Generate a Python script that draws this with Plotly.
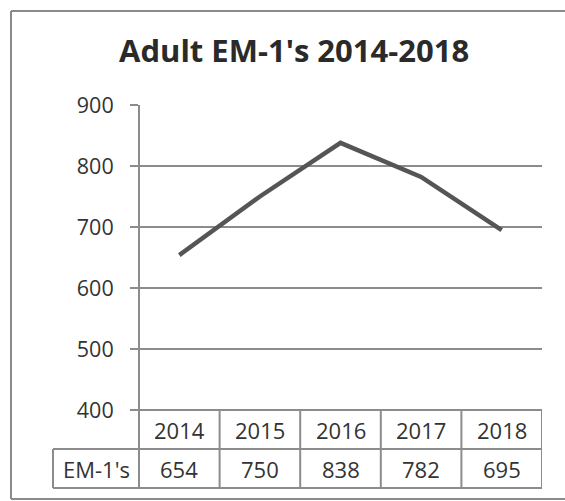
import plotly.graph_objects as go

years = ["2014", "2015", "2016", "2017", "2018"]
values = [654, 750, 838, 782, 695]
series_name = "EM-1's"
title_text = "Adult EM-1's 2014-2018"
y_ticks = [400, 500, 600, 700, 800, 900]

W, H = 565, 501

def px(x):
    return x / W

def py(y):
    return 1 - y / H

TXT = "#333333"
GRID = "#8c8c8c"
FONT = "Open Sans"

fig = go.Figure()
fig.add_trace(go.Scatter(
    x=years, y=values, mode="lines",
    line=dict(color="#555555", width=4.5),
    showlegend=False, hoverinfo="skip",
))

x0, x1 = 139, 542
ytop, ybot = 105, 410
row1, row2 = 449, 488

shapes = []
# outer chart border (left, top, bottom; right side lies outside the picture)
for (ax0, ay0, ax1, ay1) in [(11, 11, 11, 499), (11, 11, 565, 11), (11, 499, 565, 499)]:
    shapes.append(dict(type="line", xref="paper", yref="paper",
                       x0=px(ax0), x1=px(ax1), y0=py(ay0), y1=py(ay1),
                       line=dict(color="#8a8a8a", width=2)))
# y axis line extending through table
shapes.append(dict(type="line", xref="paper", yref="paper",
                   x0=px(x0), x1=px(x0), y0=py(ytop), y1=py(row2),
                   line=dict(color=GRID, width=2)))
# table horizontal lines
for yy, xs in [(ybot, x0), (row1, 53), (row2, 53)]:
    shapes.append(dict(type="line", xref="paper", yref="paper",
                       x0=px(xs), x1=px(x1), y0=py(yy), y1=py(yy),
                       line=dict(color=GRID, width=2)))
# table vertical lines at category boundaries
for i in range(len(years)):
    shapes.append(dict(type="line", xref="x", yref="paper",
                       x0=i + 0.5, x1=i + 0.5, y0=py(ybot), y1=py(row2),
                       line=dict(color=GRID, width=2)))
# left edge of row-header cell
shapes.append(dict(type="line", xref="paper", yref="paper",
                   x0=px(53), x1=px(53), y0=py(row1), y1=py(row2),
                   line=dict(color=GRID, width=2)))

annotations = []
for i, (yr, v) in enumerate(zip(years, values)):
    annotations.append(dict(x=i, xref="x", y=py((ybot + row1) / 2), yref="paper",
                            text=yr, showarrow=False, xanchor="center", yanchor="middle",
                            font=dict(family=FONT, size=22, color=TXT)))
    annotations.append(dict(x=i, xref="x", y=py((row1 + row2) / 2), yref="paper",
                            text=str(v), showarrow=False, xanchor="center", yanchor="middle",
                            font=dict(family=FONT, size=22, color=TXT)))
annotations.append(dict(x=px(96), xref="paper", y=py((row1 + row2) / 2), yref="paper",
                        text=series_name, showarrow=False, xanchor="center", yanchor="middle",
                        font=dict(family=FONT, size=22, color=TXT)))
annotations.append(dict(x=px(293.5), xref="paper", y=py(50), yref="paper",
                        text="<b>" + title_text + "</b>", showarrow=False,
                        xanchor="center", yanchor="middle",
                        font=dict(family=FONT, size=31, color="#2a2a2a")))

fig.update_layout(
    width=W, height=H, autosize=False,
    margin=dict(l=0, r=0, t=0, b=0, autoexpand=False),
    paper_bgcolor="white", plot_bgcolor="white",
    xaxis=dict(domain=[px(x0), px(x1)], type="category", range=[-0.5, len(years) - 0.5],
               automargin=False,
               showticklabels=False, showgrid=False, zeroline=False, showline=False, ticks=""),
    yaxis=dict(domain=[py(ybot), py(ytop)], range=[400, 900], tickvals=y_ticks,
               automargin=False,
               showgrid=True, gridcolor=GRID, gridwidth=2, zeroline=False, showline=False,
               ticks="outside", ticklen=8, tickcolor=GRID, tickwidth=2,
               ticklabelstandoff=12,
               tickfont=dict(family=FONT, size=21.5, color=TXT)),
    shapes=shapes, annotations=annotations,
)

fig.write_html("out.html")
